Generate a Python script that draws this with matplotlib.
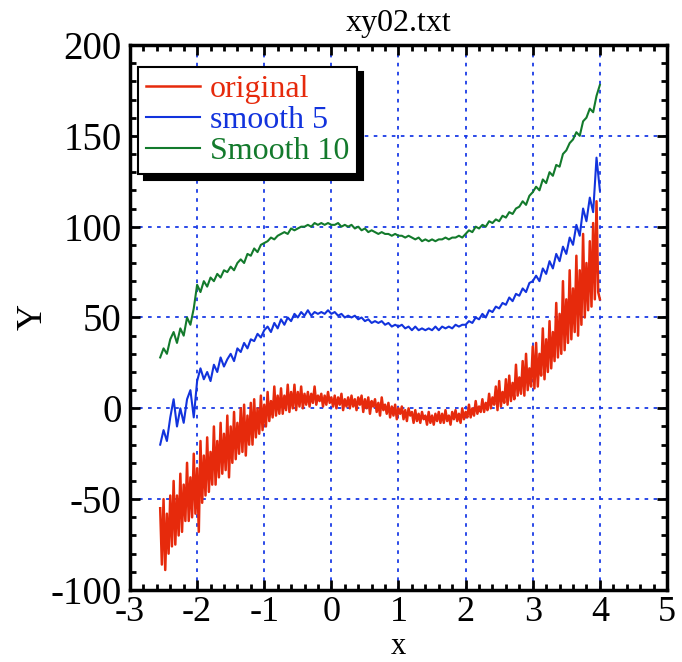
import numpy as np
import matplotlib
matplotlib.use("Agg")
import matplotlib.pyplot as plt
from matplotlib.ticker import MultipleLocator

plt.rcParams['font.family'] = ['Liberation Serif', 'DejaVu Serif']
plt.rcParams['axes.unicode_minus'] = False

# x grids (start, step) for the sampled readings
x_orig_start, x_orig_step = -2.55, 0.025
x_smooth_start, x_smooth_step = -2.55, 0.05

# original data, read every 0.025 in x
original = [
    -55, -86, -50, -89, -58, -80, -48, -76,
    -40, -75, -48, -70, -36, -68, -42, -62,
    -30, -62, -38, -60, -25, -58, -33, -68,
    -18, -52, -26, -48, -16, -46, -24, -42,
    -10, -42, -18, -38, -8, -36, -14, -34,
    -4, -38, -10, -30, -2, -28, -8, -25,
    0, -24, 2, -26, -4, -20, 3, -20,
    5, -16, 0, -14, 7, -12, 2, -10,
    9, -7, 4, -5, 12, -4, 7, -3,
    11, -3, 7, -1, 13, -2, 9, 0,
    13, -1, 9, 1, 12, 0, 8, 2,
    9, 1, 8, 3, 12, 2, 7, 4,
    8, 1, 7, 2, 9, 3, 6, 1,
    7, 0, 6, 2, 8, -1, 5, 1,
    6, 0, 7, 1, 5, -1, 6, 2,
    7, -2, 5, 0, 6, -3, 4, 1,
    5, -2, 3, -4, 6, -1, 2, -3,
    3, -5, 1, -4, 2, -6, 0, -3,
    1, -6, -1, -7, 0, -4, -2, -8,
    -1, -7, -3, -8, -2, -6, -4, -9,
    -2, -8, -4, -9, -3, -7, -2, -8,
    -3, -8, -1, -7, -4, -9, -2, -6,
    -1, -7, -3, -8, 0, -6, -2, -5,
    2, -5, 0, -4, 4, -3, 1, -2,
    5, -2, 3, -1, 8, 0, 6, 2,
    12, -1, 15, 1, 9, 3, 16, 2,
    18, 4, 14, 5, 24, 7, 17, 8,
    26, 7, 30, 10, 22, 12, 34, 11,
    36, 12, 30, 18, 44, 16, 38, 20,
    48, 22, 42, 26, 58, 28, 52, 30,
    70, 32, 60, 36, 76, 38, 66, 42,
    84, 40, 76, 46, 96, 50, 80, 54,
    92, 56, 102, 60, 114, 64, 60,
]

# smoothed series, read every 0.05 in x
smooth5 = [
    -20, -12, -18, -5,
    5, -10, 0, -8,
    5, 10, -5, 15,
    22, 16, 20, 15,
    24, 20, 28, 23,
    27, 30, 26, 33,
    31, 36, 33, 38,
    37, 41, 39, 43,
    45, 42, 47, 44,
    49, 46, 50, 48,
    52, 50, 53, 51,
    54, 51, 53, 52,
    53, 52, 54, 52,
    53, 51, 52, 50,
    51, 50, 51, 49,
    50, 48, 49, 47,
    48, 47, 48, 46,
    47, 45, 46, 45,
    46, 44, 45, 43,
    45, 43, 44, 43,
    44, 43, 45, 43,
    45, 44, 45, 44,
    46, 45, 46, 46,
    48, 47, 50, 49,
    52, 50, 54, 53,
    56, 55, 58, 57,
    61, 59, 63, 62,
    66, 64, 69, 70,
    73, 70, 77, 74,
    81, 77, 85, 81,
    89, 85, 94, 90,
    101, 95, 110, 103,
    116, 108, 138, 120,
]

smooth10 = [
    28, 33, 30, 38,
    42, 36, 44, 40,
    50, 46, 55, 68,
    64, 70, 67, 72,
    70, 74, 72, 76,
    75, 78, 76, 80,
    82, 80, 85, 84,
    88, 86, 90, 91,
    92, 94, 93, 95,
    96, 97, 96, 99,
    98, 99, 100, 100,
    101, 100, 102, 101,
    102, 101, 102, 101,
    101, 102, 100, 101,
    100, 101, 99, 100,
    98, 99, 97, 98,
    97, 96, 97, 96,
    96, 95, 96, 95,
    95, 94, 95, 94,
    93, 94, 92, 93,
    92, 93, 92, 93,
    93, 94, 93, 94,
    94, 95, 94, 96,
    98, 97, 100, 99,
    101, 100, 103, 102,
    104, 103, 106, 105,
    108, 107, 110, 111,
    114, 112, 117, 119,
    122, 120, 126, 124,
    130, 128, 134, 133,
    140, 142, 146, 148,
    152, 150, 158, 160,
    165, 163, 172, 178,
]

labels = ["original", "smooth 5", "Smooth 10"]
colors = ["#e62a0c", "#1233dd", "#137a2c"]

x_orig = x_orig_start + x_orig_step * np.arange(len(original))
x_smooth = x_smooth_start + x_smooth_step * np.arange(len(smooth5))

fig = plt.figure(figsize=(6.82, 6.62), dpi=100)
ax = fig.add_axes([0.1906, 0.1088, 0.7874, 0.8232])

widths = [1.8, 1.5, 1.5]
for xs, ys, lab, c, w in zip([x_orig, x_smooth, x_smooth],
                             [original, smooth5, smooth10], labels, colors, widths):
    ax.plot(xs, ys, color=c, lw=w, label=lab)

ax.set_xlim(-3, 5)
ax.set_ylim(-100, 200)
ax.xaxis.set_major_locator(MultipleLocator(1))
ax.xaxis.set_minor_locator(MultipleLocator(0.2))
ax.yaxis.set_major_locator(MultipleLocator(50))
ax.yaxis.set_minor_locator(MultipleLocator(10))
ax.grid(True, which='major', color='#1a3be6', ls=(0, (2, 3)), lw=1.3)
ax.tick_params(which='both', direction='in', top=True, right=True,
               width=2, labelsize=28, pad=6)
ax.tick_params(axis='x', labelsize=26, pad=4)
ax.tick_params(which='major', length=7)
ax.tick_params(which='minor', length=4)
for s in ax.spines.values():
    s.set_linewidth(2.5)

ax.set_title("xy02.txt", fontsize=23, pad=10)
ax.set_xlabel("x", fontsize=22)
ax.xaxis.label.set_va('bottom')
ax.xaxis.set_label_coords(0.5, -0.1305)
ax.set_ylabel("Y", fontsize=26)
ax.yaxis.set_label_coords(-0.15, 0.5)

leg = ax.legend(loc='upper left', bbox_to_anchor=(0.015, 0.96), borderaxespad=0,
                fontsize=23, fancybox=False, framealpha=1, edgecolor='black',
                handlelength=1.7, handletextpad=0.3, labelspacing=0.05,
                borderpad=0.25,
                shadow={'ox': 4, 'oy': -4, 'color': 'black', 'alpha': 1})
leg.get_frame().set_linewidth(1.5)
for t, c in zip(leg.get_texts(), colors):
    t.set_color(c)

fig.savefig("out.png", dpi=100)
